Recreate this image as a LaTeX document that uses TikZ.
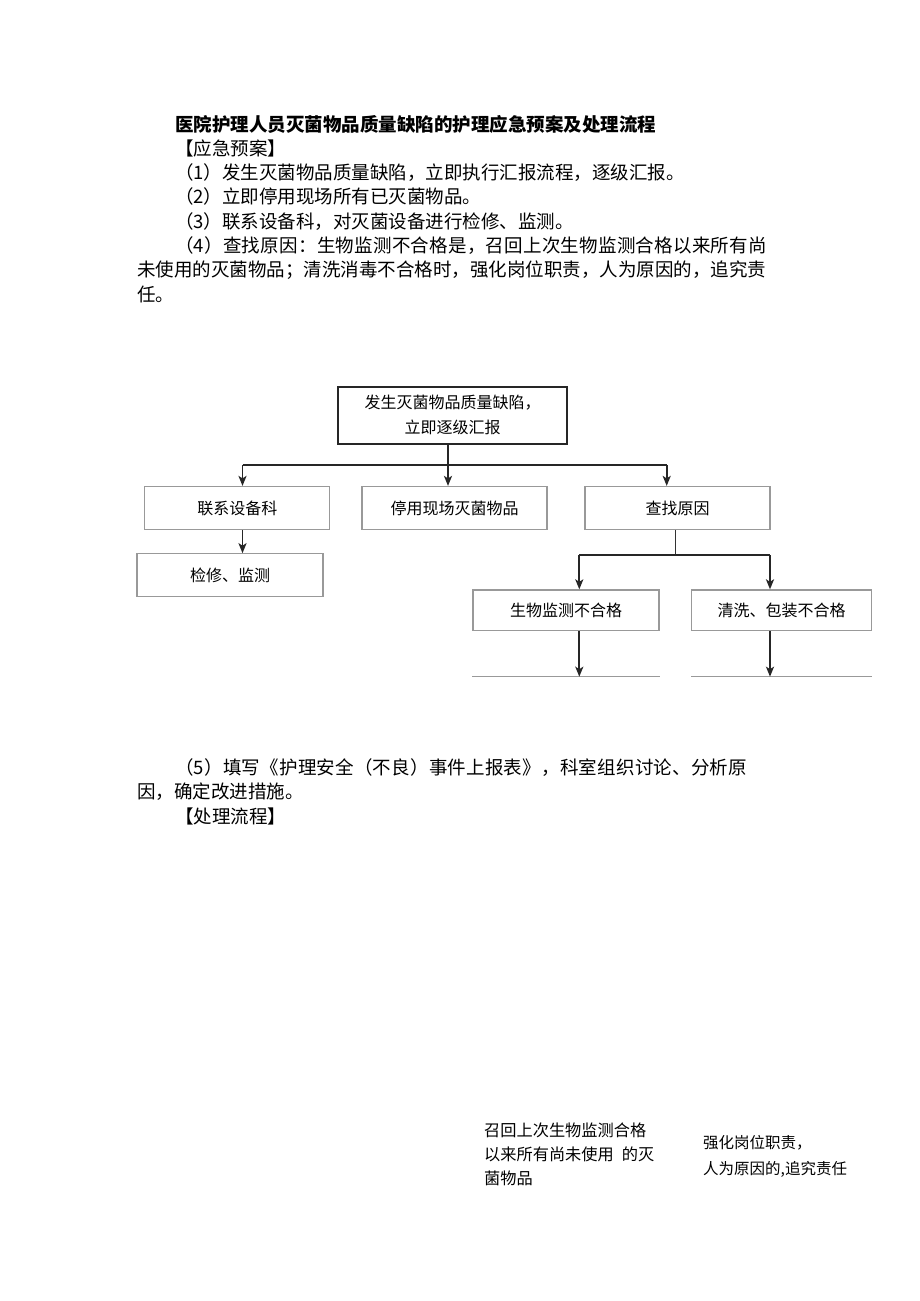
\documentclass[tikz,border=0pt]{standalone}
\usepackage{fontspec}
\setmainfont{Noto Sans CJK SC}
\usetikzlibrary{arrows.meta, positioning}

\tikzset{
  para/.style={anchor=west, inner sep=0pt, font=\fontsize{18.5}{24}\selectfont},
  plainbox/.style={draw=gray!80, line width=1.2pt, minimum width=185pt, minimum height=43pt,
    inner sep=0pt, font=\fontsize{16}{20}\selectfont},
  topbox/.style={draw=black!85, line width=2pt, minimum width=229pt, minimum height=57pt,
    inner sep=0pt, align=center, font=\fontsize{16}{25}\selectfont},
  link/.style={line width=1.9pt, draw=black!85},
  thinlink/.style={line width=1.2pt, draw=black!80},
  stub/.style={draw=gray!80, line width=1.2pt},
  note/.style={anchor=west, inner sep=0pt, align=left}
}

\begin{document}
\begin{tikzpicture}[x=1pt, y=-1pt, >={Stealth[length=10pt, width=8pt, inset=2.5pt]}]
  \useasboundingbox[fill=white] (0,0) rectangle (920,1301);

  % Text above the chart
  \node[para, font=\fontsize{18.5}{24}\selectfont\bfseries] (title) at (175,124)
    {医院护理人员灭菌物品质量缺陷的护理应急预案及处理流程};
  \node[para] (planhead) at (175,148.3) {【应急预案】};
  \node[para] (item1) at (175,172.6) {（1）发生灭菌物品质量缺陷，立即执行汇报流程，逐级汇报。};
  \node[para] (item2) at (175,196.9) {（2）立即停用现场所有已灭菌物品。};
  \node[para] (item3) at (175,221.2) {（3）联系设备科，对灭菌设备进行检修、监测。};
  \node[para] (item4a) at (175,245.5)
    {\addfontfeature{LetterSpace=1.4}（4）查找原因：生物监测不合格是，召回上次生物监测合格以来所有尚};
  \node[para] (item4b) at (137,269.8) {未使用的灭菌物品；清洗消毒不合格时，强化岗位职责，人为原因的，追究责};
  \node[para] (item4c) at (137,294.1) {任。};

  % Chart
  \node[topbox] (report) at (452.5,415) {发生灭菌物品质量缺陷，\\立即逐级汇报};
  \node[plainbox] (contact) at (237.3,508) {联系设备科};
  \node[plainbox] (stop) at (454.5,508) {停用现场灭菌物品};
  \node[plainbox] (cause) at (677.5,508) {查找原因};
  \node[plainbox, minimum width=186pt] (repair) at (230,575.3) {检修、监测};
  \node[plainbox, minimum width=186pt, minimum height=40.7pt] (bio) at (566,610.3) {生物监测不合格};
  \node[plainbox, minimum width=180pt, minimum height=40.7pt] (clean) at (781.7,610.3) {清洗、包装不合格};

  \coordinate (split) at (448,465);
  \coordinate (barL) at (242.5,465);
  \coordinate (barR) at (666.7,465);
  \coordinate (fork) at (675.7,555);
  \coordinate (forkL) at (579.3,555);
  \coordinate (forkR) at (770,555);
  \coordinate (bioFoot) at (579.3,676.7);
  \coordinate (cleanFoot) at (770,676.7);

  \draw[link, ->] (report.south -| split) -- (split |- stop.north);
  \draw[link] (barL) -- (barR);
  \draw[link, ->] (barL) -- (barL |- contact.north);
  \draw[link, ->] (barR) -- (barR |- cause.north);
  \draw[link, ->] (contact.south -| barL) -- (barL |- repair.north);

  \draw[thinlink] (cause.south -| fork) -- (fork);
  \draw[link] (forkL) -- (forkR);
  \draw[link, ->] (forkL) -- (forkL |- bio.north);
  \draw[link, ->] (forkR) -- (forkR |- clean.north);

  \draw[stub] (bio.west |- bioFoot) -- (bio.east |- bioFoot);
  \draw[stub] (clean.west |- cleanFoot) -- (clean.east |- cleanFoot);
  \draw[link, ->] (bio.south -| bioFoot) -- (bioFoot);
  \draw[link, ->] (clean.south -| cleanFoot) -- (cleanFoot);

  % Text below the chart
  \node[para] (item5a) at (175,767.5)
    {\addfontfeature{LetterSpace=1.2}（5）填写《护理安全（不良）事件上报表》，科室组织讨论、分析原};
  \node[para] (item5b) at (137,792) {因，确定改进措施。};
  \node[para] (flowhead) at (175,816.5) {【处理流程】};

  \node[note, font=\fontsize{16.2}{24}\selectfont] (recall) at (484,1154)
    {召回上次生物监测合格\\以来所有尚未使用\hspace{0.5em}的灭\\菌物品};
  \node[note, font=\fontsize{15.5}{26}\selectfont] (duty) at (703,1156)
    {强化岗位职责，\\人为原因的,追究责任};
\end{tikzpicture}
\end{document}
